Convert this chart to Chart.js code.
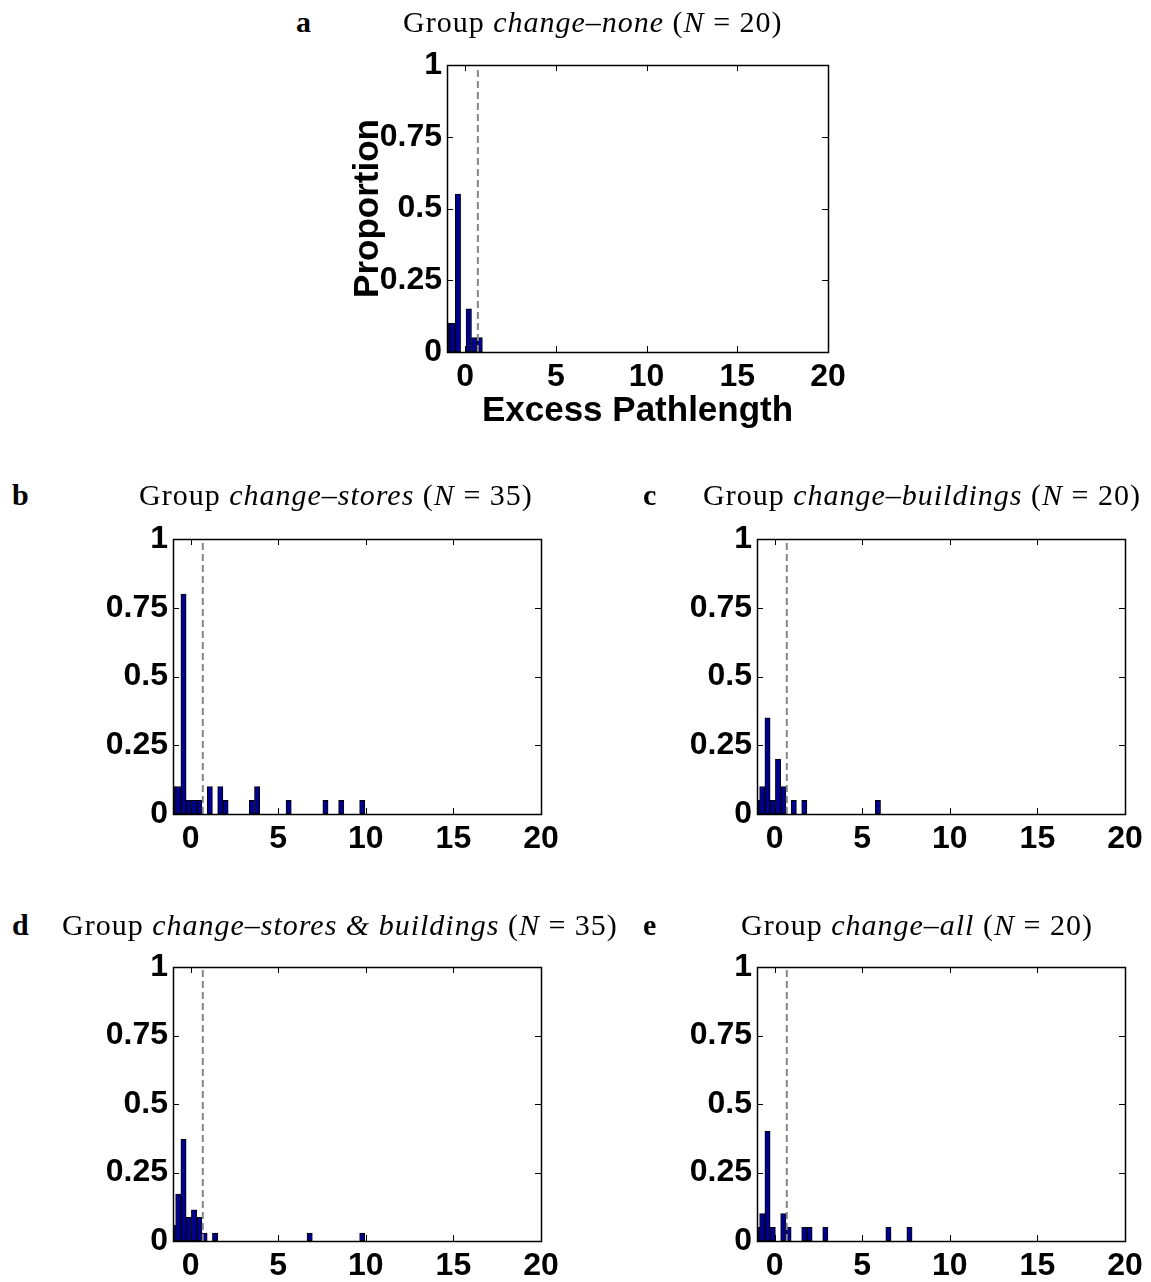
<!DOCTYPE html>
<html><head><meta charset="utf-8">
<script src="https://cdn.jsdelivr.net/npm/chart.js@4/dist/chart.umd.min.js"></script>
<style>
html,body{margin:0;padding:0;background:#fff;}
body{width:1151px;height:1282px;position:relative;overflow:hidden;}
canvas{position:absolute;}
.t{position:absolute;font-family:"Liberation Serif",serif;font-size:30px;line-height:30px;letter-spacing:1px;white-space:nowrap;color:#000;}
.t b{font-weight:bold;}
</style></head><body>
<script>
// ---------- data ----------
const yTickValues = [0, 0.25, 0.5, 0.75, 1];
const yTickLabels = ['0', '0.25', '0.5', '0.75', '1'];
const xTickValues = [0, 5, 10, 15, 20];
const xTickLabels = ['0', '5', '10', '15', '20'];
const thresholdX = 0.7;

const panelLetters = ['a', 'b', 'c', 'd', 'e'];
const groupNames = ['change\u2013none', 'change\u2013stores', 'change\u2013buildings', 'change\u2013stores & buildings', 'change\u2013all'];
const groupN = [20, 35, 20, 35, 20];

const binsA = [-1, -0.7, -0.4, -0.1, 0.2, 0.5, 0.8];
const propA = [0.1, 0.1, 0.55, 0, 0.15, 0.05, 0.05];
const binsB = [-1, -0.7, -0.4, -0.1, 0.2, 0.5, 1.1, 1.7, 2.0, 3.5, 3.8, 5.6, 7.7, 8.6, 9.8];
const propB = [0.1, 0.1, 0.8, 0.05, 0.05, 0.05, 0.1, 0.1, 0.05, 0.05, 0.1, 0.05, 0.05, 0.05, 0.05];
const binsC = [-1, -0.7, -0.4, -0.1, 0.2, 0.5, 1.1, 1.7, 5.9];
const propC = [0.05, 0.1, 0.35, 0.05, 0.2, 0.1, 0.05, 0.05, 0.05];
const binsD = [-1, -0.7, -0.4, -0.1, 0.2, 0.5, 0.8, 1.4, 6.8, 9.8];
const propD = [0.057, 0.171, 0.371, 0.086, 0.114, 0.086, 0.029, 0.029, 0.029, 0.029];
const binsE = [-1, -0.7, -0.4, -0.1, 0.5, 0.8, 1.7, 2.0, 2.9, 6.5, 7.7];
const propE = [0.05, 0.1, 0.4, 0.05, 0.1, 0.05, 0.05, 0.05, 0.05, 0.05, 0.05];

const xAxisTitle = 'Excess Pathlength';
const yAxisTitle = 'Proportion';

// ---------- layout (positions / styles) ----------
const layout = [
  {L:447, T:65,  R:828,  B:352,  yW:104, xH:84, titles:true,  letterX:296, textX:403, titleY:7},
  {L:173, T:539, R:541,  B:814,  yW:100, xH:50, titles:false, letterX:12,  textX:139, titleY:480},
  {L:757, T:539, R:1125, B:814,  yW:100, xH:50, titles:false, letterX:643, textX:703, titleY:480},
  {L:173, T:967, R:541,  B:1241, yW:100, xH:50, titles:false, letterX:12,  textX:62,  titleY:910},
  {L:757, T:967, R:1125, B:1241, yW:100, xH:50, titles:false, letterX:643, textX:741, titleY:910}
];
const series = [[binsA, propA], [binsB, propB], [binsC, propC], [binsD, propD], [binsE, propE]];

const tickFont = {family: 'Liberation Sans', weight: 'bold', size: 32};
const titleFont = {family: 'Liberation Sans', weight: 'bold', size: 35};
const barFill = '#00008f';

const framePlugin = {
  id: 'frame',
  afterDraw(chart) {
    const {ctx, chartArea: a, scales: {x, y}} = chart;
    ctx.save();
    ctx.strokeStyle = '#000';
    ctx.lineWidth = 1;
    const tl = 6;
    ctx.beginPath();
    yTickValues.forEach(v => {
      const py = Math.round(y.getPixelForValue(v)) + 0.5;
      ctx.moveTo(a.left, py); ctx.lineTo(a.left + tl, py);
      ctx.moveTo(a.right, py); ctx.lineTo(a.right - tl, py);
    });
    xTickValues.forEach(v => {
      const px = Math.round(x.getPixelForValue(v)) + 0.5;
      ctx.moveTo(px, a.bottom); ctx.lineTo(px, a.bottom - tl);
      ctx.moveTo(px, a.top); ctx.lineTo(px, a.top + tl);
    });
    ctx.stroke();
    ctx.lineWidth = 1.5;
    ctx.strokeRect(Math.round(a.left) + 0.5, Math.round(a.top) + 0.5, Math.round(a.right - a.left), Math.round(a.bottom - a.top));
    ctx.restore();
  }
};

Chart.defaults.animation = false;

layout.forEach((g, i) => {
  const padT = 30, padR = 40, padB = 6;
  const cv = document.createElement('canvas');
  const w = g.yW + (g.R - g.L) + padR;
  const h = padT + (g.B - g.T) + g.xH + padB;
  cv.width = w; cv.height = h;
  cv.style.left = (g.L - g.yW) + 'px';
  cv.style.top = (g.T - padT) + 'px';
  cv.style.width = w + 'px'; cv.style.height = h + 'px';
  document.body.appendChild(cv);

  // title text
  const tl = document.createElement('div');
  tl.className = 't';
  tl.style.left = g.letterX + 'px'; tl.style.top = g.titleY + 'px';
  tl.innerHTML = '<b>' + panelLetters[i] + '</b>';
  document.body.appendChild(tl);
  const tt = document.createElement('div');
  tt.className = 't';
  tt.style.left = g.textX + 'px'; tt.style.top = g.titleY + 'px';
  tt.innerHTML = 'Group <i>' + groupNames[i].replace('&', '&amp;') + '</i> (<i>N</i> = ' + groupN[i] + ')';
  document.body.appendChild(tt);

  const [bins, props] = series[i];
  new Chart(cv, {
    type: 'bar',
    data: {
      datasets: [
        {
          type: 'line',
          data: [{x: thresholdX, y: 0}, {x: thresholdX, y: 1}],
          borderColor: '#858585', borderWidth: 2, borderDash: [7, 4],
          pointRadius: 0, order: 0, clip: 0
        },
        {
          type: 'bar',
          data: bins.map((b, k) => ({x: b, y: props[k]})),
          backgroundColor: barFill, borderColor: '#000', borderWidth: 1,
          borderSkipped: false, barPercentage: 1, categoryPercentage: 1,
          order: 1, clip: {left: 0, right: 0, top: 0, bottom: 1}
        }
      ]
    },
    options: {
      responsive: false, animation: false,
      layout: {padding: {left: 0, top: padT, right: padR, bottom: padB}},
      plugins: {legend: {display: false}, tooltip: {enabled: false}},
      scales: {
        x: {
          type: 'linear', min: -1, max: 20, offset: false,
          grid: {display: false, drawTicks: false}, border: {display: false},
          afterBuildTicks: s => { s.ticks = xTickValues.map(v => ({value: v})); },
          afterFit: s => { s.height = g.xH; },
          ticks: {font: tickFont, color: '#000', padding: 6, maxRotation: 0, autoSkip: false,
                  callback: v => xTickLabels[xTickValues.indexOf(v)]},
          title: {display: g.titles, text: xAxisTitle, font: titleFont, color: '#000', padding: {top: 0, bottom: 4}}
        },
        y: {
          min: 0, max: 1,
          grid: {display: false, drawTicks: false}, border: {display: false},
          afterBuildTicks: s => { s.ticks = yTickValues.map(v => ({value: v})); },
          afterFit: s => { s.width = g.yW; },
          ticks: {font: tickFont, color: '#000', padding: 5, autoSkip: false,
                  callback: v => yTickLabels[yTickValues.indexOf(v)]},
          title: {display: g.titles, text: yAxisTitle, font: titleFont, color: '#000', padding: {top: 4, bottom: 0}}
        }
      }
    },
    plugins: [framePlugin]
  });
});
</script>
</body></html>
